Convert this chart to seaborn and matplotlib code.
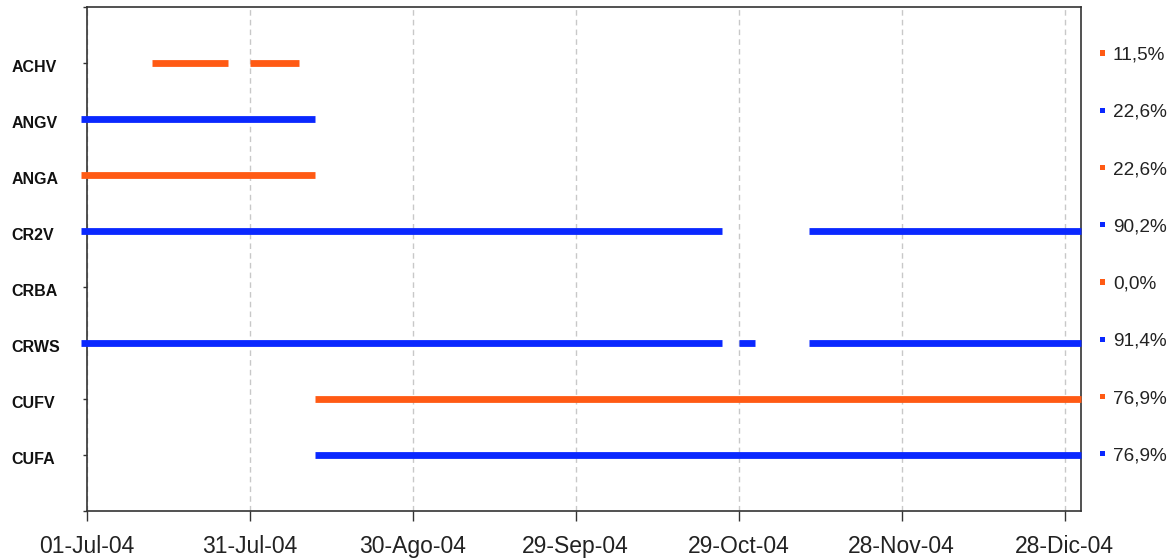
import pandas as pd
import numpy as np
import matplotlib
matplotlib.use("Agg")
import matplotlib.pyplot as plt
import matplotlib.transforms as mtransforms
import seaborn as sns

# datos
categorias = ["ACHV", "ANGV", "ANGA", "CR2V", "CRBA", "CRWS", "CUFV", "CUFA"]
porcentajes = ["11,5%", "22,6%", "22,6%", "90,2%", "0,0%", "91,4%", "76,9%", "76,9%"]
tipo = ["a", "v", "a", "v", "a", "v", "a", "v"]  # a = naranja, v = azul

seg_cat = ["ACHV", "ACHV", "ANGV", "ANGA", "CR2V", "CR2V",
           "CRWS", "CRWS", "CRWS", "CUFV", "CUFA"]
seg_ini = ["2004-07-13", "2004-07-31", "2004-06-30", "2004-06-30", "2004-06-30", "2004-11-11",
           "2004-06-30", "2004-10-29", "2004-11-11", "2004-08-12", "2004-08-12"]
seg_fin = ["2004-07-27", "2004-08-09", "2004-08-12", "2004-08-12", "2004-10-26", "2004-12-31",
           "2004-10-26", "2004-11-01", "2004-12-31", "2004-12-31", "2004-12-31"]

fechas_ticks = pd.date_range("2004-07-01", periods=7, freq="30D")
etiquetas_x = ["01-Jul-04", "31-Jul-04", "30-Ago-04", "29-Sep-04",
               "29-Oct-04", "28-Nov-04", "28-Dic-04"]

colores = {"a": "#FF5A14", "v": "#0A28FF"}

# tabla larga para seaborn
filas = []
for k, (c, i0, i1) in enumerate(zip(seg_cat, seg_ini, seg_fin)):
    pos = categorias.index(c) + 1
    t = tipo[categorias.index(c)]
    filas.append({"seg": k, "fecha": pd.Timestamp(i0), "pos": pos, "tipo": t})
    filas.append({"seg": k, "fecha": pd.Timestamp(i1), "pos": pos, "tipo": t})
df = pd.DataFrame(filas)

sns.set_style("ticks")
plt.rcParams["font.family"] = ["Liberation Sans", "DejaVu Sans"]

fig = plt.figure(figsize=(11.76, 5.58), dpi=100)
ax = fig.add_axes([0.0737, 0.0842, 0.8455, 0.9038])

sns.lineplot(data=df, x="fecha", y="pos", hue="tipo", units="seg", estimator=None,
             palette=colores, linewidth=4.9, sort=False, legend=False, ax=ax,
             solid_capstyle="butt", clip_on=False, zorder=3)

ax.set_xlim(pd.Timestamp("2004-07-01"), pd.Timestamp("2004-12-31"))
ax.set_ylim(9, 0)
ax.set_xlabel("")
ax.set_ylabel("")

ax.set_xticks(fechas_ticks)
ax.set_xticklabels(etiquetas_x, fontsize=16.5, color="#222222")
ax.tick_params(axis="x", direction="out", length=7, width=1, color="#333333", pad=10)
ax.grid(axis="x", linestyle=(0, (4, 3)), color="#c8c8c8", linewidth=1)
ax.set_axisbelow(True)

ax.set_yticks(range(1, 9))
ax.set_yticklabels(categorias, fontsize=11.5, fontweight="bold", color="#111111")
ax.set_yticks([0, 9], minor=True)
ax.tick_params(axis="y", which="both", direction="out", length=3, width=1,
               color="#333333", pad=51)
desplazar = mtransforms.ScaledTranslation(0, -2.5 / 72, fig.dpi_scale_trans)
for lab in ax.get_yticklabels():
    lab.set_horizontalalignment("left")
    lab.set_transform(lab.get_transform() + desplazar)

for s in ax.spines.values():
    s.set_color("#333333")
    s.set_linewidth(1.2)
    s.set_visible(True)

# etiquetas de porcentaje a la derecha
ax2 = ax.twinx()
ax2.set_ylim(9.0, 0.19)
ax2.set_yticks(range(1, 9))
ax2.set_yticklabels(porcentajes, fontsize=13.7, color="#222222")
ax2.tick_params(axis="y", length=0, pad=23)
for s in ax2.spines.values():
    s.set_visible(False)
trans = mtransforms.blended_transform_factory(ax2.transAxes, ax2.transData)
ax2.scatter([1.022] * len(categorias), range(1, 9), s=14, marker="s",
            c=[colores[t] for t in tipo], transform=trans, clip_on=False, linewidths=0)

fig.savefig("out.png", dpi=100)
